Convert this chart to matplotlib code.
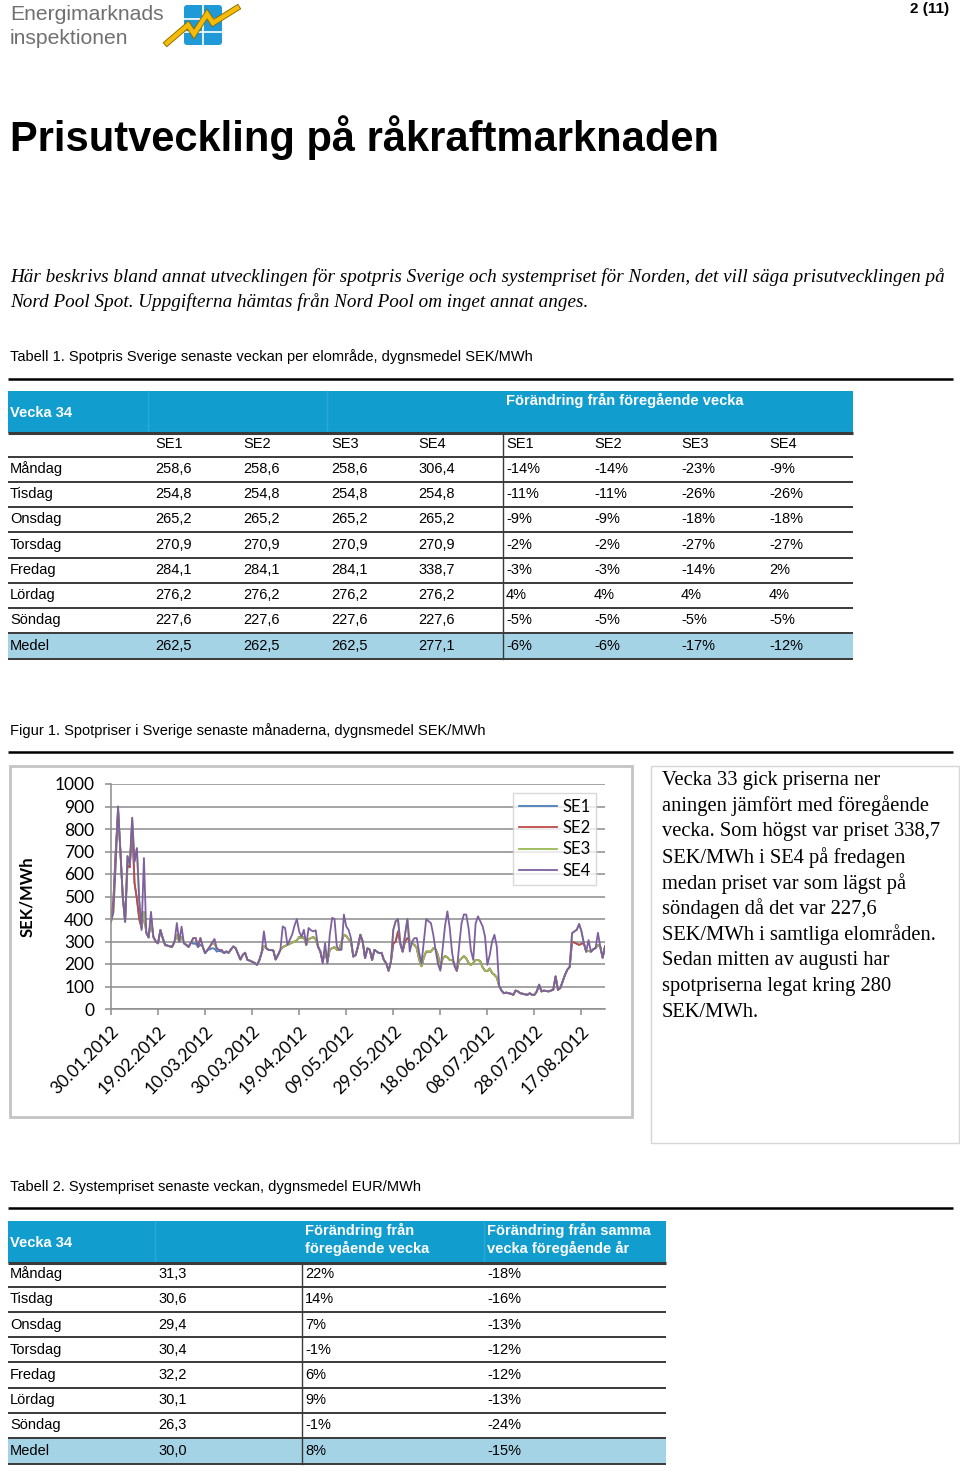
import matplotlib
matplotlib.use("Agg")
import matplotlib.pyplot as plt
from matplotlib.patches import Rectangle, FancyBboxPatch

# ---------------- data ----------------
tick_labels = ["30.01.2012", "19.02.2012", "10.03.2012", "30.03.2012", "19.04.2012",
               "09.05.2012", "29.05.2012", "18.06.2012", "08.07.2012", "28.07.2012",
               "17.08.2012"]
series_names = ["SE1", "SE2", "SE3", "SE4"]

# daily spot prices SEK/MWh, 30.01.2012 -> 27.08.2012
se4 = [388, 430, 650, 900, 700, 500, 388, 680, 640, 850,
       655, 715, 484, 351, 671, 337, 318, 432, 321, 300,
       292, 351, 315, 284, 282, 278, 277, 299, 382, 299,
       366, 292, 285, 276, 295, 315, 315, 276, 315, 277,
       248, 262, 277, 295, 311, 268, 262, 262, 249, 256,
       250, 265, 278, 270, 245, 220, 240, 250, 218, 215,
       210, 205, 196, 215, 249, 345, 270, 263, 262, 260,
       220, 240, 263, 367, 360, 285, 307, 330, 370, 400,
       345, 320, 352, 285, 360, 350, 345, 350, 278, 255,
       203, 293, 203, 330, 405, 400, 278, 263, 263, 420,
       367, 352, 315, 233, 240, 278, 330, 300, 226, 270,
       263, 218, 263, 255, 248, 250, 218, 203, 170, 210,
       352, 390, 400, 290, 255, 330, 400, 255, 300, 315,
       315, 250, 203, 300, 400, 390, 382, 330, 260, 200,
       170, 270, 370, 434, 360, 250, 190, 170, 280, 380,
       420, 420, 360, 260, 218, 380, 412, 390, 367, 322,
       196, 240, 300, 330, 278, 103, 82, 70, 73, 70,
       68, 63, 82, 78, 70, 68, 65, 63, 70, 63,
       63, 78, 108, 78, 82, 80, 78, 82, 85, 145,
       85, 93, 122, 152, 175, 187, 337, 345, 352, 378,
       345, 293, 255, 306.4, 254.8, 265.2, 270.9, 338.7, 276.2, 227.6,
       278]

se3 = [388, 430, 650, 900, 700, 500, 388, 680, 640, 850,
       655, 715, 484, 360, 430, 340, 318, 400, 321, 300,
       292, 351, 315, 284, 282, 278, 277, 299, 330, 299,
       320, 292, 285, 276, 295, 315, 315, 276, 315, 277,
       248, 262, 277, 292, 290, 268, 262, 262, 249, 256,
       250, 265, 278, 270, 245, 220, 240, 250, 218, 215,
       210, 205, 196, 215, 249, 280, 270, 263, 262, 260,
       220, 240, 263, 275, 280, 285, 290, 295, 300, 305,
       320, 315, 320, 285, 310, 315, 320, 310, 278, 255,
       210, 260, 210, 265, 270, 275, 263, 263, 300, 330,
       325, 310, 300, 233, 240, 278, 330, 300, 226, 270,
       263, 218, 263, 255, 248, 250, 218, 203, 170, 210,
       352, 390, 400, 290, 255, 330, 400, 300, 290, 285,
       270, 220, 190, 230, 255, 255, 255, 270, 265, 240,
       180, 225, 235, 230, 218, 218, 200, 170, 215, 225,
       235, 225, 205, 195, 205, 218, 218, 212, 185, 170,
       168, 180, 160, 152, 140, 103, 82, 70, 73, 70,
       68, 63, 82, 78, 70, 68, 65, 63, 70, 63,
       63, 78, 108, 78, 82, 80, 78, 82, 85, 145,
       85, 93, 122, 152, 175, 187, 337, 345, 352, 378,
       345, 293, 255, 258.6, 254.8, 265.2, 270.9, 284.1, 276.2, 227.6,
       278]

se2 = [388, 480, 700, 880, 700, 500, 388, 640, 630, 820,
       560, 490, 400, 360, 430, 340, 318, 400, 321, 300,
       292, 351, 315, 284, 282, 278, 277, 299, 330, 299,
       320, 292, 285, 276, 295, 315, 315, 276, 315, 277,
       248, 262, 277, 292, 290, 268, 262, 262, 249, 256,
       250, 265, 278, 270, 245, 220, 240, 250, 218, 215,
       210, 205, 196, 215, 249, 280, 270, 263, 262, 260,
       220, 240, 263, 275, 280, 285, 290, 295, 300, 305,
       320, 315, 320, 285, 310, 315, 320, 310, 278, 255,
       210, 260, 210, 265, 270, 275, 263, 263, 300, 330,
       325, 310, 300, 233, 240, 278, 330, 300, 226, 270,
       263, 218, 263, 255, 248, 250, 218, 203, 170, 210,
       290, 300, 345, 290, 255, 300, 315, 300, 290, 285,
       270, 220, 190, 230, 255, 255, 255, 270, 265, 240,
       180, 225, 235, 230, 218, 218, 200, 170, 215, 225,
       235, 225, 205, 195, 205, 218, 218, 212, 185, 170,
       168, 180, 160, 152, 140, 103, 82, 70, 73, 70,
       68, 63, 82, 78, 70, 68, 65, 63, 70, 63,
       63, 78, 108, 78, 82, 80, 78, 82, 85, 145,
       85, 93, 122, 152, 175, 187, 300, 295, 290, 285,
       290, 293, 255, 258.6, 254.8, 265.2, 270.9, 284.1, 276.2, 227.6,
       278]

se1 = [388, 480, 700, 880, 700, 500, 388, 640, 630, 820,
       560, 490, 400, 360, 430, 340, 318, 400, 321, 300,
       292, 351, 315, 284, 282, 278, 277, 299, 330, 299,
       320, 292, 285, 276, 295, 290, 290, 276, 285, 277,
       248, 262, 265, 270, 268, 255, 258, 255, 249, 252,
       250, 265, 278, 270, 245, 220, 240, 250, 218, 215,
       210, 205, 196, 215, 249, 280, 270, 263, 262, 260,
       220, 240, 263, 275, 280, 285, 290, 295, 300, 305,
       320, 315, 320, 285, 310, 315, 320, 310, 278, 255,
       210, 260, 210, 265, 270, 275, 263, 263, 300, 330,
       325, 310, 300, 233, 240, 278, 330, 300, 226, 270,
       263, 218, 263, 255, 248, 250, 218, 203, 170, 210,
       290, 300, 345, 290, 255, 300, 315, 300, 290, 285,
       270, 220, 190, 230, 255, 255, 255, 270, 265, 240,
       180, 225, 235, 230, 218, 218, 200, 170, 215, 225,
       235, 225, 205, 195, 205, 218, 218, 212, 185, 170,
       168, 180, 160, 152, 140, 103, 82, 70, 73, 70,
       68, 63, 82, 78, 70, 68, 65, 63, 70, 63,
       63, 78, 108, 78, 82, 80, 78, 82, 85, 145,
       85, 93, 122, 152, 175, 187, 300, 295, 290, 285,
       290, 293, 255, 258.6, 254.8, 265.2, 270.9, 284.1, 276.2, 227.6,
       278]

# Table 1
t1_days = ["Måndag", "Tisdag", "Onsdag", "Torsdag", "Fredag", "Lördag", "Söndag", "Medel"]
t1_se1 = ["258,6", "254,8", "265,2", "270,9", "284,1", "276,2", "227,6", "262,5"]
t1_se2 = ["258,6", "254,8", "265,2", "270,9", "284,1", "276,2", "227,6", "262,5"]
t1_se3 = ["258,6", "254,8", "265,2", "270,9", "284,1", "276,2", "227,6", "262,5"]
t1_se4 = ["306,4", "254,8", "265,2", "270,9", "338,7", "276,2", "227,6", "277,1"]
t1_ch1 = ["-14%", "-11%", "-9%", "-2%", "-3%", "4%", "-5%", "-6%"]
t1_ch2 = ["-14%", "-11%", "-9%", "-2%", "-3%", "4%", "-5%", "-6%"]
t1_ch3 = ["-23%", "-26%", "-18%", "-27%", "-14%", "4%", "-5%", "-17%"]
t1_ch4 = ["-9%", "-26%", "-18%", "-27%", "2%", "4%", "-5%", "-12%"]

# Table 2
t2_days = ["Måndag", "Tisdag", "Onsdag", "Torsdag", "Fredag", "Lördag", "Söndag", "Medel"]
t2_price = ["31,3", "30,6", "29,4", "30,4", "32,2", "30,1", "26,3", "30,0"]
t2_week = ["22%", "14%", "7%", "-1%", "6%", "9%", "-1%", "8%"]
t2_year = ["-18%", "-16%", "-13%", "-12%", "-12%", "-13%", "-24%", "-15%"]

side_text = ["Vecka 33 gick priserna ner",
             "aningen jämfört med föregående",
             "vecka. Som högst var priset 338,7",
             "SEK/MWh i SE4 på fredagen",
             "medan priset var som lägst på",
             "söndagen då det var 227,6",
             "SEK/MWh i samtliga elområden.",
             "Sedan mitten av augusti har",
             "spotpriserna legat kring 280",
             "SEK/MWh."]

# ---------------- styling ----------------
W, H = 960, 1472
SANS = ["Liberation Sans", "DejaVu Sans"]
SERIF = ["Liberation Serif", "DejaVu Serif"]
CHART = ["Lato", "DejaVu Sans"]
BLUE_HDR = "#129dcf"
MEDEL_BG = "#a5d3e6"
LINE_C = "#3a3a3a"
colors = ["#4a7ebb", "#be4b48", "#98b954", "#7d60a0"]

fig = plt.figure(figsize=(W / 100, H / 100), dpi=100)
page = fig.add_axes([0, 0, 1, 1])
page.set_xlim(0, W)
page.set_ylim(H, 0)
page.axis("off")


def txt(x, y, s, size=10.5, color="black", weight="normal", family=SANS, ha="left",
        va="center", style="normal", **kw):
    page.text(x, y, s, fontsize=size, color=color, fontweight=weight, family=family,
              ha=ha, va=va, style=style, **kw)


def hline(y, x0, x1, lw=1.2, color=LINE_C):
    page.plot([x0, x1], [y, y], color=color, lw=lw, solid_capstyle="butt")


# ---- header / logo ----
txt(10, 14, "Energimarknads", size=15.2, color="#707070")
txt(10, 38, "inspektionen", size=15.2, color="#707070")
page.add_patch(FancyBboxPatch((184, 5), 38, 40, boxstyle="round,pad=0,rounding_size=3",
                              fc="#1f9ad6", ec="none"))
page.plot([203, 203], [5, 45], color="white", lw=1.2)
page.plot([184, 222], [18.5, 18.5], color="white", lw=1.2)
page.plot([184, 222], [32, 32], color="white", lw=1.2)
bolt_x = [167, 188, 194, 207, 213, 237]
bolt_y = [43, 25, 34, 14, 23, 8]
page.plot(bolt_x, bolt_y, color="#8a6d00", lw=4.5, solid_joinstyle="miter")
page.plot(bolt_x, bolt_y, color="#f4bb0a", lw=3.2, solid_joinstyle="miter")
txt(949, 9, "2 (11)", size=11, weight="bold", ha="right")

# ---- title and intro ----
txt(10, 138, "Prisutveckling på råkraftmarknaden", size=30, weight="bold")
txt(10, 277, "Här beskrivs bland annat utvecklingen för spotpris Sverige och systempriset för "
    "Norden, det vill säga prisutvecklingen på", size=13.75, style="italic", family=SERIF)
txt(10, 302, "Nord Pool Spot. Uppgifterna hämtas från Nord Pool om inget annat anges.",
    size=13.75, style="italic", family=SERIF)

# ---- Table 1 ----
txt(10, 357, "Tabell 1. Spotpris Sverige senaste veckan per elområde, dygnsmedel SEK/MWh",
    size=10.5)
hline(379, 8, 953, lw=1.8, color="black")
page.add_patch(Rectangle((8, 391), 845, 42, fc=BLUE_HDR, ec="none"))
for xs in (148, 327):
    page.plot([xs, xs], [391, 433], color="#2aa8d8", lw=1)
txt(10, 413, "Vecka 34", weight="bold", color="white")
txt(506, 400, "Förändring från föregående vecka", weight="bold", color="white")
page.add_patch(Rectangle((8, 634), 845, 25, fc=MEDEL_BG, ec="none"))
col_x1 = [155, 243, 331, 418, 506, 594, 681, 769]
for i, name in enumerate(series_names * 2):
    txt(col_x1[i], 444, name)
rows_y1 = [469, 494, 519, 545, 570, 595, 620, 646]
cols1 = [t1_se1, t1_se2, t1_se3, t1_se4, t1_ch1, t1_ch2, t1_ch3, t1_ch4]
for r, y in enumerate(rows_y1):
    txt(10, y, t1_days[r])
    for c, col in enumerate(cols1):
        txt(col_x1[c], y, col[r])
hline(433, 8, 853, lw=2.2)
for y in (457, 482, 507, 532, 558, 583, 608, 633, 659):
    hline(y, 8, 853, lw=1.4)
page.plot([503, 503], [433, 659], color=LINE_C, lw=1.0)

# ---- Figure caption ----
txt(10, 731, "Figur 1. Spotpriser i Sverige senaste månaderna, dygnsmedel SEK/MWh", size=10.5)
hline(752, 8, 953, lw=1.8, color="black")

# chart frame and side box
page.add_patch(Rectangle((10, 766), 622, 351, fc="white", ec="#c4c4c4", lw=2))
page.add_patch(Rectangle((651, 766), 308, 377, fc="white", ec="#d6d6d6", lw=1))
for i, line in enumerate(side_text):
    txt(662, 780 + i * 25.8, line, size=14.8, family=SERIF)

txt(27, 897, "SEK/MWh", size=12, weight="bold", family=CHART, ha="center", rotation=90)

# ---- chart ----
ax = fig.add_axes([111 / W, 1 - 1009 / H, 494 / W, 225 / H])
days = list(range(len(se4)))
for name, vals, col in zip(series_names, [se1, se2, se3, se4], colors):
    ax.plot(days, vals, color=col, lw=1.3, label=name)
ax.set_xlim(0, len(se4) - 1)
ax.set_ylim(0, 1000)
ax.set_yticks(range(0, 1001, 100))
ax.set_xticks(range(0, 201, 20))
ax.set_xticklabels(tick_labels, rotation=45, ha="right", rotation_mode="anchor",
                   fontsize=12.5, family=CHART)
for lab in ax.get_yticklabels():
    lab.set_family(CHART)
    lab.set_fontsize(12.5)
ax.grid(axis="y", color="#8c8c8c", lw=1.1)
ax.set_axisbelow(True)
for s in ("top", "right"):
    ax.spines[s].set_visible(False)
for s in ("left", "bottom"):
    ax.spines[s].set_color("#8c8c8c")
    ax.spines[s].set_linewidth(1.1)
ax.tick_params(axis="both", color="#8c8c8c", length=4, width=1.1, direction="out")
ax.tick_params(axis="y", pad=8)
ax.tick_params(axis="x", pad=6)
leg = fig.legend(loc="upper left", bbox_to_anchor=(513 / W, 1 - 793 / H), frameon=True,
                 fancybox=False, edgecolor="#d0d0d0", prop={"family": CHART, "size": 12},
                 handlelength=2.3, labelspacing=0.32, borderpad=0.35, handletextpad=0.3,
                 borderaxespad=0)
leg.get_frame().set_linewidth(1)

# ---- Table 2 ----
txt(10, 1187, "Tabell 2. Systempriset senaste veckan, dygnsmedel EUR/MWh", size=10.5)
hline(1208, 8, 953, lw=1.8, color="black")
page.add_patch(Rectangle((8, 1221), 658, 42, fc=BLUE_HDR, ec="none"))
for xs in (155, 484):
    page.plot([xs, xs], [1221, 1263], color="#2aa8d8", lw=1)
txt(10, 1243, "Vecka 34", weight="bold", color="white")
txt(305, 1230, "Förändring från", weight="bold", color="white")
txt(305, 1248, "föregående vecka", weight="bold", color="white")
txt(487, 1230, "Förändring från samma", weight="bold", color="white")
txt(487, 1248, "vecka föregående år", weight="bold", color="white")
page.add_patch(Rectangle((8, 1438), 658, 26, fc=MEDEL_BG, ec="none"))
rows_y2 = [1274, 1299, 1325, 1350, 1375, 1400, 1425, 1451]
for r, y in enumerate(rows_y2):
    txt(10, y, t2_days[r])
    txt(158, y, t2_price[r])
    txt(305, y, t2_week[r])
    txt(487, y, t2_year[r])
hline(1263, 8, 666, lw=2.2)
for y in (1287, 1312, 1337, 1362, 1388, 1413, 1438, 1464):
    hline(y, 8, 666, lw=1.4)
page.plot([302, 302], [1263, 1464], color=LINE_C, lw=1.0)

fig.savefig("out.png", dpi=100)
